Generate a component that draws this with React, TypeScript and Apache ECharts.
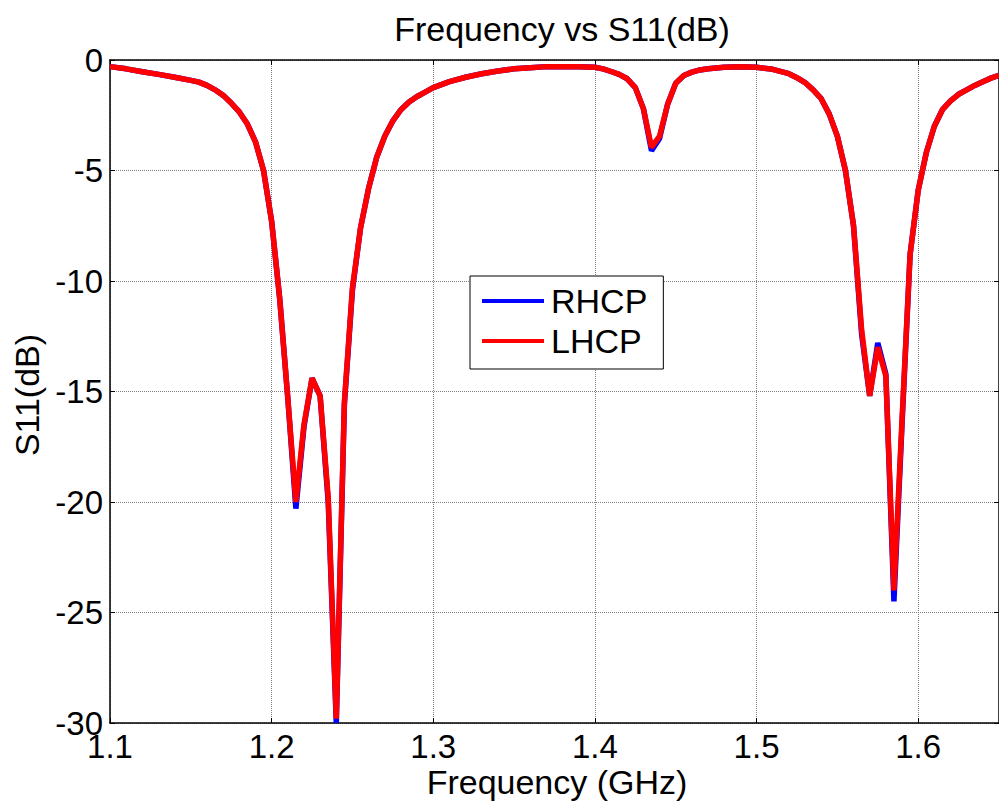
import React, { useEffect, useRef } from "react";
import * as echarts from "echarts";

const freqGHz = [
  1.1, 1.11, 1.12, 1.13, 1.14, 1.15, 1.155, 1.16, 1.165, 1.17, 1.175, 1.18, 1.185, 1.19, 1.195,
  1.2, 1.205, 1.21, 1.215, 1.22, 1.225, 1.23, 1.235, 1.24, 1.245, 1.25, 1.255, 1.26, 1.265, 1.27,
  1.275, 1.28, 1.285, 1.29, 1.295, 1.3, 1.31, 1.32, 1.33, 1.34, 1.35, 1.36, 1.37, 1.38, 1.39,
  1.4, 1.405, 1.41, 1.415, 1.42, 1.425, 1.43, 1.435, 1.44, 1.445, 1.45, 1.455, 1.46, 1.465, 1.47,
  1.48, 1.49, 1.5, 1.51, 1.52, 1.525, 1.53, 1.535, 1.54, 1.545, 1.55, 1.555, 1.56, 1.565, 1.57,
  1.575, 1.58, 1.585, 1.59, 1.595, 1.6, 1.605, 1.61, 1.615, 1.62, 1.625, 1.63, 1.635, 1.64, 1.645, 1.65,
];

const rhcpDb = [
  -0.3, -0.4, -0.53, -0.65, -0.78, -0.92, -1.0, -1.15, -1.35, -1.6, -1.95, -2.35, -2.9, -3.7, -5.0,
  -7.3, -10.8, -15.3, -20.3, -16.6, -14.4, -15.2, -20.0, -30.0, -15.6, -10.4, -7.6, -5.8, -4.4, -3.45,
  -2.75, -2.25, -1.9, -1.65, -1.45, -1.25, -0.98, -0.78, -0.62, -0.5, -0.4, -0.35, -0.3, -0.3, -0.3,
  -0.33, -0.4, -0.52, -0.65, -0.85, -1.25, -2.2, -4.1, -3.55, -2.0, -1.05, -0.7, -0.55, -0.45, -0.4,
  -0.33, -0.3, -0.33, -0.42, -0.62, -0.8, -1.02, -1.35, -1.75, -2.45, -3.45, -5.0, -7.5, -12.4, -15.2,
  -12.8, -14.2, -24.5, -16.5, -8.8, -5.9, -4.2, -3.0, -2.25, -1.85, -1.55, -1.35, -1.15, -0.98, -0.82, -0.7,
];

const lhcpDb = [
  -0.3, -0.4, -0.53, -0.65, -0.78, -0.92, -1.0, -1.15, -1.35, -1.6, -1.95, -2.35, -2.9, -3.7, -5.0,
  -7.3, -10.8, -15.3, -20.0, -16.5, -14.4, -15.2, -19.8, -29.8, -15.5, -10.3, -7.6, -5.8, -4.4, -3.45,
  -2.75, -2.25, -1.9, -1.65, -1.45, -1.25, -0.98, -0.78, -0.62, -0.5, -0.4, -0.35, -0.3, -0.3, -0.3,
  -0.33, -0.4, -0.52, -0.65, -0.85, -1.25, -2.2, -3.95, -3.45, -2.0, -1.05, -0.7, -0.55, -0.45, -0.4,
  -0.33, -0.3, -0.33, -0.42, -0.62, -0.8, -1.02, -1.35, -1.75, -2.45, -3.45, -5.0, -7.5, -12.2, -15.2,
  -13.0, -14.3, -24.0, -16.3, -8.8, -5.9, -4.2, -3.0, -2.25, -1.85, -1.55, -1.35, -1.15, -0.98, -0.82, -0.7,
];

const seriesNames = ["RHCP", "LHCP"];
const titleText = "Frequency vs S11(dB)";
const xName = "Frequency (GHz)";
const yName = "S11(dB)";

const FONT = "'Liberation Sans', Arial, Helvetica, sans-serif";

export default function App() {
  const ref = useRef<HTMLDivElement>(null);
  useEffect(() => {
    if (!ref.current) return;
    const chart = echarts.init(ref.current, null, { renderer: "svg" });
    const pairs = (ys: number[]) => freqGHz.map((f, i) => [f, ys[i]]);
    const gridLine = { show: true, lineStyle: { color: "#808080", type: "dotted", width: 1 } };
    const tick = { show: true, inside: true, length: 5, lineStyle: { color: "#000", width: 1 } };
    const axisLine = { show: true, onZero: false, lineStyle: { color: "#000", width: 1.5 } };
    chart.setOption({
      animation: false,
      backgroundColor: "#fff",
      title: {
        text: titleText,
        left: 557,
        textAlign: "center",
        top: 7,
        textStyle: { fontFamily: FONT, fontSize: 34, fontWeight: "normal", color: "#000" },
      },
      grid: { left: 110, top: 60, width: 895, height: 663, containLabel: false },
      legend: {
        orient: "vertical",
        left: 470,
        top: 276,
        data: seriesNames,
        icon: "rect",
        itemWidth: 62,
        itemHeight: 4,
        itemGap: 6,
        padding: [8, 16, 11, 12],
        borderColor: "#000",
        borderWidth: 1,
        backgroundColor: "#fff",
        textStyle: { fontFamily: FONT, fontSize: 34, color: "#000", padding: [0, 0, 0, 2] },
      },
      xAxis: [
        {
          type: "value",
          min: 1.1,
          max: 1.65,
          interval: 0.1,
          position: "bottom",
          axisLine,
          axisTick: tick,
          splitLine: gridLine,
          axisLabel: {
            fontFamily: FONT,
            fontSize: 33,
            color: "#000",
            margin: 7,
            showMaxLabel: false,
            formatter: (v: number) => v.toFixed(1),
          },
        },
        {
          type: "value",
          min: 1.1,
          max: 1.65,
          interval: 0.1,
          position: "top",
          axisLine,
          axisTick: tick,
          splitLine: { show: false },
          axisLabel: { show: false },
        },
      ],
      yAxis: [
        {
          type: "value",
          min: -30,
          max: 0,
          interval: 5,
          position: "left",
          axisLine,
          axisTick: tick,
          splitLine: gridLine,
          axisLabel: { fontFamily: FONT, fontSize: 33, color: "#000", margin: 7 },
        },
        {
          type: "value",
          min: -30,
          max: 0,
          interval: 5,
          position: "right",
          axisLine,
          axisTick: tick,
          splitLine: { show: false },
          axisLabel: { show: false },
        },
      ],
      graphic: [
        {
          type: "text",
          x: 557,
          y: 782,
          style: {
            text: xName,
            fontFamily: FONT,
            fontSize: 34,
            fill: "#000",
            align: "center",
            verticalAlign: "middle",
          },
        },
        {
          type: "text",
          x: 27,
          y: 395,
          rotation: Math.PI / 2,
          style: {
            text: yName,
            fontFamily: FONT,
            fontSize: 34,
            fill: "#000",
            align: "center",
            verticalAlign: "middle",
          },
        },
      ],
      series: [
        {
          name: seriesNames[0],
          type: "line",
          data: pairs(rhcpDb),
          symbol: "none",
          lineStyle: { color: "#0000ff", width: 5.5 },
          itemStyle: { color: "#0000ff" },
          z: 2,
        },
        {
          name: seriesNames[1],
          type: "line",
          data: pairs(lhcpDb),
          symbol: "none",
          lineStyle: { color: "#ff0000", width: 5.5 },
          itemStyle: { color: "#ff0000" },
          z: 3,
        },
      ],
    });
    return () => chart.dispose();
  }, []);
  return (
    <div
      ref={ref}
      style={{ position: "absolute", left: 0, top: 0, width: 999, height: 807, background: "#fff" }}
    />
  );
}
